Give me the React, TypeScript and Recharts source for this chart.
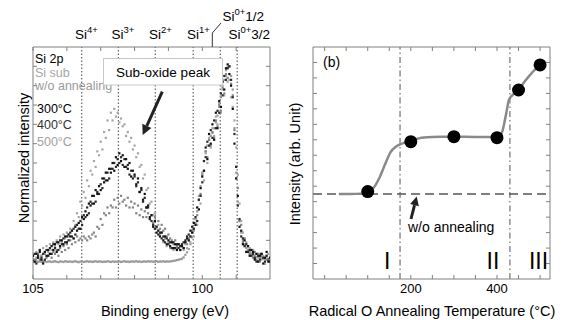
import {
  ComposedChart,
  Line,
  ReferenceLine,
  Scatter,
  XAxis,
  YAxis,
} from "recharts";

const W = 563;
const H = 320;
const AXIS = "#808080";
const FONT = '"Liberation Sans", Arial, sans-serif';

// ---- panel (a): Si 2p spectra, binding energy grid (eV) ----
const energy = [
  105, 104.95, 104.9, 104.85, 104.8, 104.75, 104.7, 104.65, 104.6, 104.55,
  104.5, 104.45, 104.4, 104.35, 104.3, 104.25, 104.2, 104.15, 104.1, 104.05,
  104, 103.95, 103.9, 103.85, 103.8, 103.75, 103.7, 103.65, 103.6, 103.55,
  103.5, 103.45, 103.4, 103.35, 103.3, 103.25, 103.2, 103.15, 103.1, 103.05,
  103, 102.95, 102.9, 102.85, 102.8, 102.75, 102.7, 102.65, 102.6, 102.55,
  102.5, 102.45, 102.4, 102.35, 102.3, 102.25, 102.2, 102.15, 102.1, 102.05,
  102, 101.95, 101.9, 101.85, 101.8, 101.75, 101.7, 101.65, 101.6, 101.55,
  101.5, 101.45, 101.4, 101.35, 101.3, 101.25, 101.2, 101.15, 101.1, 101.05,
  101, 100.95, 100.9, 100.85, 100.8, 100.75, 100.7, 100.65, 100.6, 100.55,
  100.5, 100.45, 100.4, 100.35, 100.3, 100.25, 100.2, 100.15, 100.1, 100.05,
  100, 99.95, 99.9, 99.85, 99.8, 99.75, 99.7, 99.65, 99.6, 99.55,
  99.5, 99.45, 99.4, 99.35, 99.3, 99.25, 99.2, 99.15, 99.1, 99.05,
  99, 98.95, 98.9, 98.85, 98.8, 98.75, 98.7, 98.65, 98.6, 98.55,
  98.5, 98.45, 98.4, 98.35, 98.3, 98.25, 98.2, 98.15, 98.1, 98.05,
  98,
];

// normalized intensity (%)
const siSub = [
  -1, -1.3, -0.8, -1.1, -0.9, -1.2, -1, -0.7, -1.2, -1,
  -0.9, -1.2, -1, -0.8, -1.1, -1.3, -0.9, -1, -1.2, -0.8,
  -1, -1.1, -0.9, -1.2, -1, -0.8, -1.1, -1.3, -1, -0.9,
  -1.2, -1, -0.8, -1.1, -0.9, -1.2, -1, -0.8, -1.1, -1,
  -0.9, -1.2, -1, -1.1, -0.8, -1, -1.2, -0.9, -1.1, -1,
  -1.1, -0.9, -1.2, -1, -0.8, -1.1, -1, -1.2, -0.9, -1,
  -1, -0.8, -1.1, -0.9, -1.2, -1, -0.9, -1.1, -0.8, -1,
  -0.9, -1.1, -1, -0.8, -1.2, -0.9, -1, -0.8, -1.1, -0.9,
  -1, -0.9, -0.8, -0.6, -0.5, -0.2, 0, 0.2, 0.5, 1.2,
  2.5, 3.8, 5.5, 8, 11.5, 15, 19, 25, 30.8, 38,
  45, 51, 56, 59, 62, 64, 65.5, 68, 71, 74.5,
  79, 84, 88, 93, 98, 99.5, 100, 95, 88, 68,
  45, 30, 20, 14, 10, 8, 6, 5, 4, 3.2,
  2.5, 2, 1.5, 1.2, 1, 0.8, 0.5, 0.3, 0, 0,
  0,
];

const woAnneal = [
  2, -1, 1, 3, 0, 2, -1, 3, 1, 2,
  3, 1, 4, 3, 5, 2, 6, 4, 7, 5,
  8, 6, 10, 8, 11, 9, 12, 10, 11, 10,
  12, 11, 10, 12, 11, 13, 14, 12, 17, 16,
  21, 18, 24, 23, 27, 24, 28, 27, 31, 27,
  32, 29, 33, 30, 31, 28, 32, 27, 30, 27,
  29, 24, 28, 23, 26, 22, 25, 22, 24, 21,
  23, 19, 22, 17, 20, 16, 18, 15, 16, 12,
  13, 11, 10, 8, 10, 7, 8, 7, 8, 6,
  9, 8, 11, 12, 15, 16, 21, 23, 31, 34,
  44, 46, 56, 53, 62, 59, 66, 63, 72, 69,
  80, 77, 89, 86, 96, 94, 100, 91, 85, 67,
  48, 37, 20, 18, 9, 11, 4, 7, 3, 5,
  1, 4, 0, 3, -1, 2, 1, -2, 2, 0,
  -1,
];

const anneal300 = [
  2, -1, 3, 1, 4, 0, -2, 4, 2, 5,
  3, 7, 5, 8, 4, 9, 7, 10, 8, 12,
  9, 13, 12, 15, 11, 17, 15, 19, 16, 22,
  21, 25, 23, 29, 28, 33, 29, 36, 34, 38,
  36, 42, 40, 45, 41, 47, 45, 50, 46, 53,
  49, 55, 51, 54, 48, 52, 47, 50, 43, 46,
  44, 39, 42, 35, 37, 31, 34, 27, 28, 22,
  23, 17, 20, 14, 15, 12, 14, 10, 12, 8,
  10, 7, 9, 6, 8, 5, 8, 5, 7, 6,
  9, 11, 10, 15, 14, 19, 18, 27, 26, 37,
  43, 46, 58, 52, 65, 60, 70, 62, 76, 68,
  82, 79, 92, 88, 99, 101, 96, 90, 78, 60,
  42, 33, 17, 15, 8, 10, 4, 7, 2, 5,
  4, 0, 3, -1, 2, 3, -2, 1, 4, -1,
  1,
];

const anneal400 = [
  0, 3, -2, 2, 5, 1, 3, 0, 5, 2,
  6, 3, 8, 6, 9, 5, 10, 8, 11, 9,
  12, 10, 14, 12, 16, 13, 18, 16, 20, 18,
  23, 22, 27, 24, 30, 29, 33, 30, 35, 34,
  39, 37, 42, 41, 45, 42, 47, 47, 50, 48,
  52, 50, 53, 49, 52, 48, 49, 44, 46, 42,
  43, 38, 40, 35, 36, 30, 32, 27, 27, 21,
  20, 18, 16, 17, 13, 14, 11, 12, 9, 11,
  8, 9, 6, 9, 6, 8, 6, 7, 8, 9,
  10, 12, 13, 12, 17, 16, 22, 20, 31, 33,
  40, 51, 53, 61, 59, 67, 63, 72, 68, 77,
  76, 86, 85, 95, 93, 99, 100, 93, 84, 65,
  48, 28, 21, 12, 11, 7, 8, 4, 5, 2,
  3, 1, -1, 2, 0, 3, 1, -1, 2, 0,
  -1,
];

const anneal500 = [
  3, 0, 4, 1, 5, 2, 6, 3, 7, 4,
  8, 5, 9, 7, 10, 8, 12, 9, 13, 11,
  14, 12, 16, 15, 20, 18, 24, 22, 30, 28,
  35, 32, 41, 38, 46, 44, 51, 48, 56, 54,
  61, 57, 66, 63, 72, 67, 76, 72, 78, 74,
  76, 71, 73, 69, 70, 64, 66, 61, 63, 57,
  59, 53, 55, 48, 49, 42, 44, 36, 37, 29,
  30, 23, 24, 16, 18, 13, 14, 9, 11, 7,
  9, 6, 9, 5, 8, 6, 8, 5, 7, 5,
  8, 6, 10, 9, 14, 12, 21, 18, 33, 29,
  45, 41, 55, 50, 63, 58, 68, 64, 74, 70,
  81, 76, 90, 85, 95, 92, 93, 84, 79, 72,
  58, 44, 29, 20, 14, 7, 9, 4, 6, 2,
  5, 1, 3, -1, 3, 0, 2, -2, 1, 3,
  0,
];

const stateLines = [103.56, 102.48, 101.39, 100.27, 99.47, 98.97];
const energyTicks = [99, 100, 101, 102, 103, 104, 105];
const energyLabels = [105, 100];
const intensityTicks = [0, 10, 20, 30, 40, 50, 60, 70, 80, 90, 100];

// ---- panel (b): sub-oxide intensity vs annealing temperature ----
const temps = [100, 200, 300, 400, 450, 500];
const tempIntensity = [5.65, 8.88, 9.2, 9.14, 12.22, 13.84];
const fitTemps = [33, 60, 85, 100, 115, 128, 140, 153, 165, 175, 200, 230, 270, 300, 350, 390, 400, 411, 420, 428, 440, 450, 465, 480, 500];
const fitIntensity = [5.5, 5.5, 5.52, 5.6, 5.95, 6.6, 7.4, 8.2, 8.55, 8.7, 8.95, 9.15, 9.2, 9.2, 9.18, 9.18, 9.2, 9.45, 10.5, 11.6, 12.0, 12.25, 12.8, 13.3, 13.84];
const noAnnealLevel = 5.5;
const regionBounds = [175, 430];
const tempTicks = [0, 50, 100, 150, 200, 250, 300, 350, 400, 450, 500];
const tempLabels = [200, 400];
const armTicks = [1, 2, 3, 4, 5, 6, 7, 8, 9, 10, 11, 12, 13, 14];

type Side = "bottom" | "top" | "left" | "right";

function tickMark(side: Side, labels: number[] = []) {
  return (props: any) => {
    const { x, y, payload } = props;
    const d = 4;
    const end =
      side === "bottom"
        ? { x2: x, y2: y - d }
        : side === "top"
        ? { x2: x, y2: y + d }
        : side === "left"
        ? { x2: x + d, y2: y }
        : { x2: x - d, y2: y };
    return (
      <g>
        <line x1={x} y1={y} {...end} stroke={AXIS} strokeWidth={1} />
        {labels.includes(payload.value) && (
          <text x={x} y={y + 14} textAnchor="middle" fontSize={13} fontFamily={FONT} fill="#000">
            {payload.value}
          </text>
        )}
      </g>
    );
  };
}

const dotShape = (color: string) => (p: any) =>
  <rect x={p.cx - 1.1} y={p.cy - 1.1} width={2.2} height={2.2} fill={color} />;

const toPoints = (vals: number[]) => energy.map((e, i) => ({ e, v: vals[i] }));

const spectra = [
  { name: "Si sub", values: siSub, color: "#9a9a9a" },
  { name: "w/o annealing", values: woAnneal, color: "#858585" },
  { name: "500", values: anneal500, color: "#a6a6a6" },
  { name: "400", values: anneal400, color: "#2a2a2a" },
  { name: "300", values: anneal300, color: "#111" },
];

const axisCommon = {
  allowDataOverflow: true,
  interval: 0 as const,
  tickSize: 0,
  tickMargin: 0,
  tickLine: false,
  axisLine: { stroke: AXIS },
};

function SpectraChart() {
  return (
    <ComposedChart width={W} height={H} margin={{ top: 46, right: 292, bottom: 40, left: 32 }}>
      <XAxis xAxisId="bottom" orientation="bottom" type="number" dataKey="e" domain={[98, 105]} reversed ticks={energyTicks} height={1} tick={tickMark("bottom", energyLabels)} {...axisCommon} />
      <XAxis xAxisId="top" orientation="top" type="number" dataKey="e" domain={[98, 105]} reversed ticks={energyTicks} height={1} tick={tickMark("top")} {...axisCommon} />
      <YAxis yAxisId="left" orientation="left" type="number" dataKey="v" domain={[-10, 110]} ticks={intensityTicks} width={1} tick={tickMark("left")} {...axisCommon} />
      <YAxis yAxisId="right" orientation="right" type="number" dataKey="v" domain={[-10, 110]} ticks={intensityTicks} width={1} tick={tickMark("right")} {...axisCommon} />
      {stateLines.map((e) => (
        <ReferenceLine key={e} xAxisId="bottom" yAxisId="left" x={e} stroke="#444" strokeDasharray="1.5 2" />
      ))}
      {spectra.map((s) => (
        <Scatter
          key={s.name}
          name={s.name}
          xAxisId="bottom"
          yAxisId="left"
          data={toPoints(s.values)}
          dataKey="v"
          fill={s.color}
          shape={dotShape(s.color)}
          isAnimationActive={false}
        />
      ))}
    </ComposedChart>
  );
}

function AnnealChart() {
  const fit = fitTemps.map((t, i) => ({ t, v: fitIntensity[i] }));
  const pts = temps.map((t, i) => ({ t, v: tempIntensity[i] }));
  return (
    <ComposedChart width={W} height={H} margin={{ top: 46, right: 12, bottom: 40, left: 312 }}>
      <XAxis xAxisId="bottom" orientation="bottom" type="number" dataKey="t" domain={[-27, 523]} ticks={tempTicks} height={1} tick={tickMark("bottom", tempLabels)} {...axisCommon} />
      <XAxis xAxisId="top" orientation="top" type="number" dataKey="t" domain={[-27, 523]} ticks={tempTicks} height={1} tick={tickMark("top")} {...axisCommon} />
      <YAxis yAxisId="left" orientation="left" type="number" dataKey="v" domain={[0, 15]} ticks={armTicks} width={1} tick={tickMark("left")} {...axisCommon} />
      <YAxis yAxisId="right" orientation="right" type="number" dataKey="v" domain={[0, 15]} ticks={armTicks} width={1} tick={tickMark("right")} {...axisCommon} />
      {regionBounds.map((t) => (
        <ReferenceLine key={t} xAxisId="bottom" yAxisId="left" x={t} stroke="#555" strokeDasharray="6 3 1.5 3" />
      ))}
      <ReferenceLine xAxisId="bottom" yAxisId="left" y={noAnnealLevel} stroke="#555" strokeWidth={1.5} strokeDasharray="9 5" />
      <Line
        xAxisId="bottom"
        yAxisId="left"
        data={fit}
        dataKey="v"
        type="monotone"
        stroke="#8a8a8a"
        strokeWidth={2.5}
        dot={false}
        isAnimationActive={false}
      />
      <Scatter
        xAxisId="bottom"
        yAxisId="left"
        data={pts}
        dataKey="v"
        fill="#000"
        shape={(p: any) => <circle cx={p.cx} cy={p.cy} r={6.5} fill="#000" />}
        isAnimationActive={false}
      />
    </ComposedChart>
  );
}

function Arrow({ x1, y1, x2, y2, head = 10, half = 5 }: { x1: number; y1: number; x2: number; y2: number; head?: number; half?: number }) {
  const dx = x2 - x1;
  const dy = y2 - y1;
  const len = Math.hypot(dx, dy);
  const ux = dx / len;
  const uy = dy / len;
  const bx = x2 - head * ux;
  const by = y2 - head * uy;
  const px = -uy;
  const py = ux;
  return (
    <g>
      <line x1={x1} y1={y1} x2={bx} y2={by} stroke="#222" strokeWidth={3} />
      <polygon points={`${x2},${y2} ${bx + half * px},${by + half * py} ${bx - half * px},${by - half * py}`} fill="#222" />
    </g>
  );
}

function Annotations() {
  const si = (x: number, y: number, sup: string, tail?: string) => (
    <text x={x} y={y} fontSize={13.5}>
      Si
      <tspan dy={-6} fontSize={9.5}>{sup}</tspan>
      {tail && <tspan dy={6} fontSize={13.5}>{tail}</tspan>}
    </text>
  );
  return (
    <svg width={W} height={H} style={{ position: "absolute", left: 0, top: 0, pointerEvents: "none" }} fontFamily={FONT} fill="#000">
      {/* panel (a) */}
      {si(75, 39, "4+")}
      {si(111.5, 39, "3+")}
      {si(149, 39, "2+")}
      {si(187, 39, "1+")}
      {si(228.5, 39, "0+", "3/2")}
      {si(222.5, 21, "0+", "1/2")}
      <polyline points="212.3,47 212.3,33 221,23" fill="none" stroke="#333" strokeWidth={1} />

      <text x={35} y={63} fontSize={12.5}>Si 2p</text>
      <text x={35} y={76.5} fontSize={12.5} fill="#a6a6a6">Si sub</text>
      <text x={35} y={90} fontSize={12.5} fill="#999">w/o annealing</text>
      <text x={37} y={113} fontSize={12.5}>300°C</text>
      <text x={37} y={129} fontSize={12.5} fill="#333">400°C</text>
      <text x={37} y={146} fontSize={12.5} fill="#a0a0a0">500°C</text>

      <rect x={103.5} y={58.5} width={119} height={26.5} fill="#fff" stroke="#c8c8c8" />
      <text x={163} y={77} fontSize={13.5} textAnchor="middle">Sub-oxide peak</text>
      <Arrow x1={162.3} y1={91.7} x2={142.7} y2={135} />

      <text transform="translate(29,158) rotate(-90)" fontSize={14.5} textAnchor="middle">Normalized intensity</text>
      <text x={165} y={316} fontSize={14.5} textAnchor="middle">Binding energy (eV)</text>

      {/* panel (b) */}
      <text x={323} y={67} fontSize={14}>(b)</text>
      <text x={408} y={232} fontSize={14}>w/o annealing</text>
      <Arrow x1={411} y1={219} x2={416.7} y2={196.5} head={9} half={4.5} />
      <text x={387.3} y={269} fontSize={23} textAnchor="middle">I</text>
      <text x={493} y={269} fontSize={23} textAnchor="middle">II</text>
      <text x={538.5} y={269} fontSize={23} textAnchor="middle">III</text>

      <text transform="translate(300,164) rotate(-90)" fontSize={14.5} textAnchor="middle">Intensity (arb. Unit)</text>
      <text x={432} y={316} fontSize={14.5} textAnchor="middle">Radical O Annealing Temperature (°C)</text>
    </svg>
  );
}

export default function App() {
  return (
    <div style={{ position: "fixed", left: 0, top: 0, width: W, height: H, background: "#fff", fontFamily: FONT }}>
      <div style={{ position: "absolute", left: 0, top: 0 }}>
        <SpectraChart />
      </div>
      <div style={{ position: "absolute", left: 0, top: 0 }}>
        <AnnealChart />
      </div>
      <Annotations />
    </div>
  );
}
